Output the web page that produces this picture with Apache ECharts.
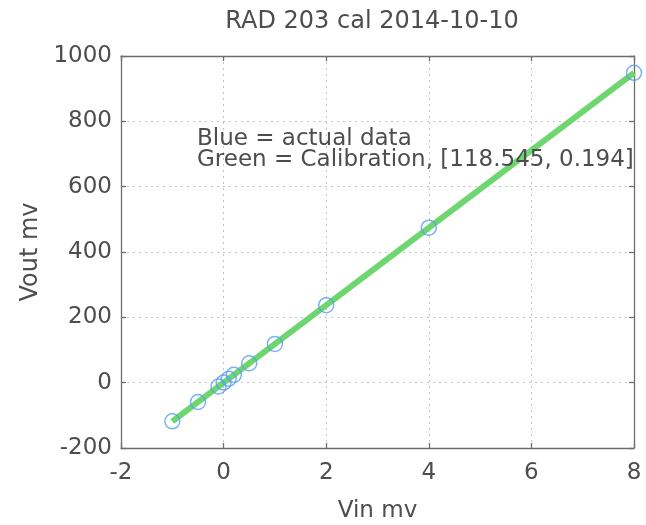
<!DOCTYPE html>
<html>
<head>
<meta charset="utf-8">
<script src="https://cdn.jsdelivr.net/npm/echarts@6/dist/echarts.min.js"></script>
<style>html,body{margin:0;padding:0;background:#fff}#c{width:646px;height:525px}</style>
</head>
<body>
<div id="c"></div>
<script>
// Measured data (Vin mv, Vout mv)
const vin  = [-1, -0.5, -0.1, 0, 0.1, 0.2, 0.5, 1, 2, 4, 8];
const vout = [-118.4, -59.1, -11.7, 0.2, 12.0, 23.9, 59.5, 118.7, 237.3, 474.4, 948.5];
// Calibration line endpoints
const calX = [-1, 8];
const calY = [-118.4, 948.6];
const titleText = 'RAD 203 cal 2014-10-10';
const noteLines = ['Blue = actual data', 'Green = Calibration, [118.545, 0.194]'];
const xName = 'Vin mv', yName = 'Vout mv';

const FONT = 'DejaVu Sans';
const TXT = '#4d4d4d';
const AX = '#6e6e6e';

const chart = echarts.init(document.getElementById('c'), null, {renderer: 'canvas'});
const axBase = {
  axisLine: {show: true, onZero: false, lineStyle: {color: AX, width: 1.3}},
  axisTick: {show: true, inside: true, length: 5, lineStyle: {color: AX, width: 1.3}},
};
chart.setOption({
  animation: false,
  backgroundColor: '#fff',
  title: {
    text: titleText, left: 372, top: 10, textAlign: 'center', padding: 0,
    textStyle: {fontFamily: FONT, fontSize: 24, fontWeight: 'normal', color: TXT}
  },
  grid: {left: 121, right: 12, top: 56, bottom: 77, containLabel: false, outerBoundsMode: 'none'},
  xAxis: [
    Object.assign({}, axBase, {
      type: 'value', min: -2, max: 8, interval: 2, position: 'bottom',
      name: xName, nameLocation: 'middle', nameGap: 52,
      nameTextStyle: {fontFamily: FONT, fontSize: 23, color: TXT},
      axisLabel: {fontFamily: FONT, fontSize: 23, color: TXT, margin: 14,
                  formatter: v => String(v)},
      splitLine: {show: true, lineStyle: {type: [2, 4], color: '#c4c4c4', width: 1}}
    }),
    Object.assign({}, axBase, {
      type: 'value', min: -2, max: 8, interval: 2, position: 'top',
      axisLabel: {show: false}, splitLine: {show: false}
    })
  ],
  yAxis: [
    Object.assign({}, axBase, {
      type: 'value', min: -200, max: 1000, interval: 200, position: 'left',
      name: yName, nameLocation: 'middle', nameGap: 78,
      nameTextStyle: {fontFamily: FONT, fontSize: 24, color: TXT},
      axisLabel: {fontFamily: FONT, fontSize: 23, color: TXT, margin: 9,
                  formatter: v => String(v)},
      splitLine: {show: true, lineStyle: {type: [2, 4], color: '#c4c4c4', width: 1}}
    }),
    Object.assign({}, axBase, {
      type: 'value', min: -200, max: 1000, interval: 200, position: 'right',
      axisLabel: {show: false}, splitLine: {show: false}
    })
  ],
  graphic: [{
    type: 'text', left: 197, top: 128, z: 100,
    style: {
      text: noteLines.join('\n'),
      font: '23px "' + FONT + '"', fill: TXT, lineHeight: 21
    }
  }],
  series: [
    {
      type: 'line', data: calX.map((x, i) => [x, calY[i]]),
      symbol: 'none', lineStyle: {color: '#6ed66e', width: 6}, z: 2
    },
    {
      type: 'scatter', data: vin.map((x, i) => [x, vout[i]]),
      symbol: 'circle', symbolSize: 15,
      itemStyle: {color: 'rgba(0,0,0,0)', borderColor: '#5a9ff0', borderWidth: 1.5}, z: 3
    }
  ]
});
</script>
</body>
</html>
